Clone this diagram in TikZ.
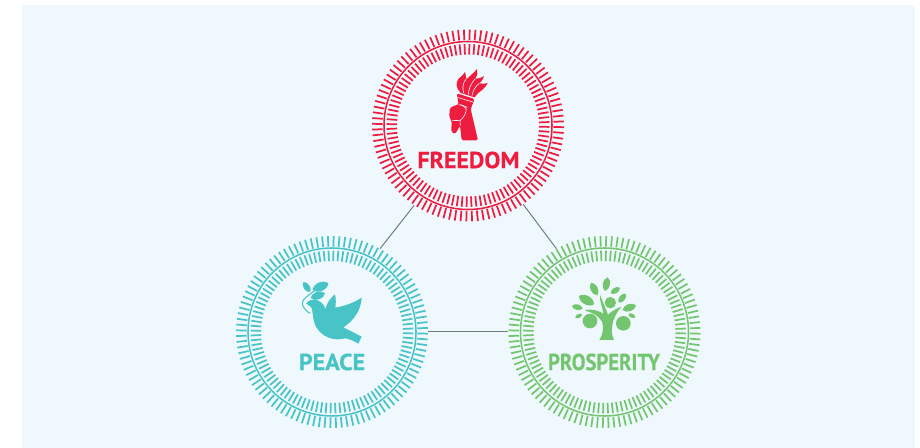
\documentclass[tikz,border=0pt]{standalone}
\usepackage{graphicx}
\usepackage{fontspec}
\setmainfont[BoldFeatures={FakeBold=0.4}]{PT Sans}
\definecolor{bgblue}{HTML}{EEF8FD}
\definecolor{fred}{HTML}{EE1C3E}
\definecolor{pteal}{HTML}{48C4C6}
\definecolor{pgreen}{HTML}{73C66F}
\definecolor{linkgray}{HTML}{6F7F7C}
\newcommand{\ringfig}[3]{%
  \begin{scope}[shift={(#1,#2)}]
    \draw[#3,line width=1.15pt] (0,0) circle[x radius=84,y radius=84];
    \foreach \i in {1,...,104}{
      \pgfmathsetmacro{\a}{\i*3.461538+1}
      \draw[#3,line width=1.3pt] (\a:71) -- (\a:81.5);
      \draw[#3,line width=1.3pt] (\a:85.5) -- (\a:96);
    }
  \end{scope}}
\newcommand{\leafshape}[3]{\fill[#1] #2 to[bend left=62] #3 to[bend left=62] #2;}
\tikzset{
  hub/.style={circle,minimum size=144pt,inner sep=0pt},
  link/.style={draw=linkgray,line width=.75pt},
  caption/.style={font=\bfseries\fontsize{17.4pt}{20pt}\selectfont,inner sep=0pt},
  gapline/.style={draw=bgblue,line width=.45pt}
}
\begin{document}
\begin{tikzpicture}[x=.75pt,y=-.75pt]
\useasboundingbox (0,0) rectangle (920,448);
\fill[white] (0,0) rectangle (920,448);
\fill[bgblue] (22,5) rectangle (915,448);
\node[hub] (freedom) at (468,125.5) {};
\node[hub] (peace) at (332,332) {};
\node[hub] (prosperity) at (604.5,332) {};
\ringfig{468}{125.5}{fred}
\ringfig{332}{332}{pteal}
\ringfig{604.5}{332}{pgreen}
\draw[link] (freedom.236) -- (peace.60);
\draw[link] (freedom.305) -- (prosperity.120);
\draw[link] (peace.east) -- (prosperity.west);
\node[caption,text=fred] (t1) at (468.5,160) {\scalebox{1.03}[1]{FREEDOM}};
\node[caption,text=pteal] (t2) at (332,362) {\scalebox{1.04}[1]{PEACE}};
\node[caption,text=pgreen] (t3) at (604,362) {\scalebox{.89}[1]{PROSPERITY}};
% torch
\begin{scope}[shift={(430,60)},x=.25pt,y=-.25pt]
 \fill[fred] (92,99) .. controls (78,85) and (76,68) .. (86,56) .. controls (94,50) and (100,44) .. (105,36) .. controls (108,44) and (108,52) .. (109,58) .. controls (120,48) and (132,38) .. (141,27) .. controls (144,36) and (142,46) .. (136,56) .. controls (146,56) and (154,54) .. (162,48) .. controls (160,58) and (155,64) .. (148,70) .. controls (158,72) and (166,72) .. (173,69) .. controls (166,84) and (154,92) .. (146,98) .. controls (142,102) and (138,106) .. (134,112) -- cycle;
 \draw[gapline] (102,101) .. controls (96,84) and (98,70) .. (108,58);
 \draw[gapline] (115,104) .. controls (115,88) and (124,68) .. (136,56);
 \draw[gapline] (126,107) .. controls (128,94) and (136,78) .. (148,70);
 \fill[fred,rounded corners=1.2pt] (80,100) -- (134,117) -- (122,147) -- (144,241) -- (95,241) -- (90,197) -- (76,222) -- (64,216) -- (65,183) -- (58,172) -- (59,145) -- (72,137) -- (86,134) -- cycle;
 \draw[gapline] (82,112) -- (131,127);
 \draw[gapline] (86,134) .. controls (96,134) and (104,138) .. (109,147) .. controls (108,160) and (102,172) .. (90,182) -- (66,181);
 \draw[gapline] (90,182) -- (91,197);
 \draw[gapline] (92,134) -- (112,142);
\end{scope}
% dove
\begin{scope}[shift={(280,270)},x=.25pt,y=-.25pt]
 \fill[pteal] (78,100) .. controls (86,90) and (100,85) .. (115,92) .. controls (128,98) and (134,108) .. (136,118) .. controls (140,100) and (150,85) .. (165,73) .. controls (168,86) and (168,100) .. (166,113) .. controls (195,108) and (222,98) .. (245,83) .. controls (244,115) and (225,150) .. (190,172) -- (245,200) -- (235,221) .. controls (220,212) and (208,207) .. (195,205) .. controls (160,215) and (125,200) .. (108,170) .. controls (96,148) and (100,125) .. (94,112) -- cycle;
 \draw[pteal,line width=.8pt] (90,130) .. controls (70,118) and (60,100) .. (72,88) .. controls (80,78) and (92,72) .. (104,62);
 \leafshape{pteal}{(90,66)}{(70,36)}
 \leafshape{pteal}{(98,60)}{(145,40)}
 \leafshape{pteal}{(92,84)}{(135,70)}
\end{scope}
% tree
\begin{scope}[shift={(540,270)},x=.25pt,y=-.25pt]
 \fill[pgreen] (178,210) .. controls (190,190) and (192,170) .. (186,155) .. controls (178,140) and (160,128) .. (135,122) .. controls (140,116) and (175,118) .. (190,132) .. controls (188,112) and (178,95) .. (180,74) .. controls (188,95) and (198,118) .. (204,134) .. controls (215,124) and (228,116) .. (244,110) .. controls (232,124) and (224,140) .. (219,155) .. controls (214,175) and (214,195) .. (222,210) -- cycle;
 \fill[pgreen] (150,153) circle[x radius=22,y radius=22];
 \fill[pgreen] (250,160) circle[x radius=22,y radius=22];
 \fill[pgreen] (211,98) circle[x radius=17,y radius=17];
 \leafshape{pgreen}{(195,63)}{(203,22)}
 \leafshape{pgreen}{(172,76)}{(153,38)}
 \leafshape{pgreen}{(212,70)}{(240,53)}
 \leafshape{pgreen}{(236,98)}{(257,71)}
 \leafshape{pgreen}{(248,120)}{(288,106)}
 \leafshape{pgreen}{(265,132)}{(286,142)}
 \leafshape{pgreen}{(162,103)}{(117,78)}
 \leafshape{pgreen}{(128,115)}{(96,108)}
 \leafshape{pgreen}{(126,133)}{(106,143)}
\end{scope}
\end{tikzpicture}
\end{document}
